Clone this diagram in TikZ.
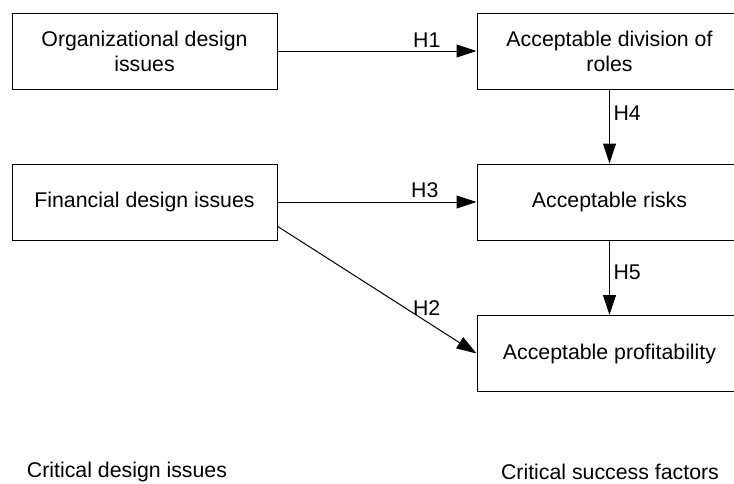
\documentclass[tikz,border=0pt]{standalone}
\usepackage{fontspec}
\setmainfont{Liberation Sans}
\usetikzlibrary{arrows.meta}

\tikzset{
	box/.style={draw, line width=1pt, minimum width=265pt, minimum height=76pt, align=center, inner sep=0pt},
	hyp/.style={-{Triangle[length=20pt,width=13pt]}, line width=1pt},
	hlabel/.style={inner sep=3.5pt},
}

\begin{document}
\begin{tikzpicture}[x=1pt, y=-1pt, font=\fontsize{21.3}{25}\selectfont]
		%%%%% START %%%%%
		
		\useasboundingbox (0, 0) rectangle (734, 483);
		
		\node[box] (org) at (144.5, 51) {Organizational design\\issues};
		\node[box] (fin) at (144.5, 202) {Financial design issues};
		
		\node[box] (roles) at (609.5, 51) {Acceptable division of\\roles};
		\node[box] (risks) at (609.5, 202) {Acceptable risks};
		\node[box] (profit) at (609.5, 353.5) {Acceptable profitability};
		
		\coordinate (finout) at (277, 226);
		
		\draw[hyp] (org) -- (roles) node[hlabel, pos=0.75, above] {H1};
		\draw[hyp] (fin) -- (risks) node[hlabel, pos=0.74, above] {H3};
		\draw[hyp] (finout) -- (profit.west) node[hlabel, pos=0.75, above=2.5pt] {H2};
		
		\draw[hyp] (roles) -- (risks) node[hlabel, pos=0.32, right] {H4};
		\draw[hyp] (risks) -- (profit) node[hlabel, pos=0.42, right] {H5};
		
		\node (designs) at (127, 472) {Critical design issues};
		\node (factors) at (610, 472) {Critical success factors};
		
		%%%%% END %%%%%
\end{tikzpicture}
\end{document}
